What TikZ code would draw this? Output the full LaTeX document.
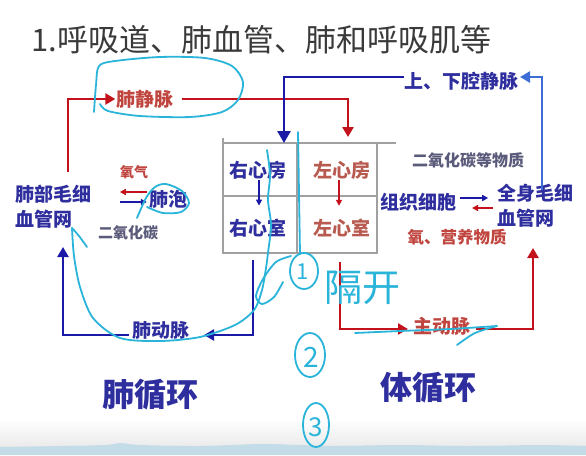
\documentclass[tikz,border=0pt]{standalone}
\usepackage{fontspec}
\setmainfont{Noto Sans CJK SC}
\usetikzlibrary{arrows.meta}
\definecolor{navy}{HTML}{2E2E9E}
\definecolor{navyline}{HTML}{1A1AA6}
\definecolor{redln}{HTML}{C4121C}
\definecolor{redtext}{HTML}{C0453F}
\definecolor{browntext}{HTML}{B85A50}
\definecolor{grayblue}{HTML}{5A5A7A}
\definecolor{penc}{HTML}{2AB4DA}
\definecolor{lightblue}{HTML}{3C6CD6}
\definecolor{boxgray}{HTML}{A0A0A0}
\definecolor{band}{HTML}{C4DCE8}
\definecolor{titlegray}{HTML}{3A3A3A}
\tikzset{
  lbl/.style={inner sep=1pt, font=\fontsize{19}{19}\selectfont\bfseries},
  bluelbl/.style={lbl, text=navy},
  redlbl/.style={lbl, text=browntext},
  smalllbl/.style={inner sep=1pt, font=\fontsize{15}{15}\selectfont\bfseries},
  bline/.style={draw=navyline, line width=2.6pt},
  rline/.style={draw=redln, line width=2.6pt},
  bigtip/.style={-{Triangle[length=10pt,width=11pt]}},
  smalltip/.style={-{Triangle[length=6pt,width=6pt]}},
  boxline/.style={draw=boxgray, line width=1.5pt},
  handw/.style={draw=penc, line width=1.8pt, line cap=round, line join=round},
  handtxt/.style={text=penc, inner sep=0pt}
}
\begin{document}
\begin{tikzpicture}[x=1pt,y=-1pt]
\useasboundingbox (0,0) rectangle (586,455);
% background bottom band
\shade[top color=white, bottom color=black!8] (0,418) rectangle (586,447);
\fill[band] (0,455) -- plot[smooth] coordinates {(0,447) (60,446) (105,445) (120,443) (140,445) (200,446) (260,444) (300,445) (330,446) (400,445) (470,446) (540,445) (586,446)} -- (586,455) -- cycle;

% title
\node[anchor=west, font=\fontsize{31}{31}\selectfont, text=titlegray, inner sep=0pt] (title) at (31,40) {1.呼吸道、肺血管、肺和呼吸肌等};

% heart box
\draw[boxline] (223,138) -- (223,253) -- (377,253) -- (377,143);
\draw[boxline] (223,143) -- (396,143);
\draw[boxline] (223,196) -- (377,196);
\draw[boxline] (297,143) -- (297,253);

% labels
\node[bluelbl] (ra) at (258,170) {右心房};
\node[bluelbl] (rv) at (258,228) {右心室};
\node[redlbl] (la) at (342,170) {左心房};
\node[redlbl] (lv) at (342,228) {左心室};
\node[lbl, text=redtext] (pv) at (145,99) {肺静脉};
\node[bluelbl] (vc) at (461,81) {上、下腔静脉};
\node[bluelbl, align=left, anchor=west, font=\fontsize{19}{25}\selectfont\bfseries] (lcap) at (14,207) {肺部毛细\\血管网};
\node[smalllbl, text=redtext, font=\fontsize{14}{14}\selectfont\bfseries] (o2) at (134,172) {氧气};
\node[bluelbl] (alv) at (168,199) {肺泡};
\node[smalllbl, text=grayblue] (co2) at (128,233) {二氧化碳};
\node[bluelbl] (pa) at (161,330) {肺动脉};
\node[redlbl, text=redtext] (ao) at (442,326) {主动脉};
\node[smalllbl, text=grayblue, font=\fontsize{16}{16}\selectfont\bfseries] (co2b) at (468,160) {二氧化碳等物质};
\node[bluelbl] (tis) at (418,202) {组织细胞};
\node[bluelbl, align=left, anchor=west, font=\fontsize{19}{25}\selectfont\bfseries] (bcap) at (496,206) {全身毛细\\血管网};
\node[smalllbl, text=redtext, font=\fontsize{16.5}{16.5}\selectfont\bfseries] (nut) at (457,237) {氧、营养物质};
\node[font=\fontsize{32}{32}\selectfont\bfseries, text=navy, inner sep=0pt] (pc) at (150,395) {肺循环};
\node[font=\fontsize{32}{32}\selectfont\bfseries, text=navy, inner sep=0pt] (sc) at (428,388) {体循环};

% connector coordinates
\coordinate (lcapOut) at (68,172);
\coordinate (pvOut) at (182,99);
\coordinate (laIn) at (348,137);
\coordinate (vcOut) at (404,77);
\coordinate (raIn) at (284,143);
\coordinate (bcapOut) at (542,190);
\coordinate (vcIn) at (520,77);
\coordinate (rvOut) at (253,260);
\coordinate (paIn) at (204,335);
\coordinate (paOut) at (129,335);
\coordinate (lcapIn) at (63,247);
\coordinate (lvOut) at (340,262);
\coordinate (aoIn) at (408,329);
\coordinate (aoOut) at (476,329);
\coordinate (bcapIn) at (533,248);

% pulmonary circulation
\draw[rline, bigtip] (lcapOut) |- (pv.west);
\draw[rline, bigtip] (pvOut) -| (laIn);
\draw[bline, bigtip] (rvOut) |- (paIn);
\draw[bline, bigtip] (paOut) -| (lcapIn);
% systemic circulation
\draw[bline, -{Triangle[length=12pt,width=13pt]}] (vcOut) -| (raIn);
\draw[draw=lightblue, line width=2.4pt, bigtip] (bcapOut) |- (vcIn);
\draw[rline, bigtip] (lvOut) |- (aoIn);
\draw[rline, bigtip] (aoOut) -| (bcapIn);
% heart inner arrows
\draw[draw=navyline, line width=1.6pt, smalltip] ([xshift=1pt]ra.south) -- ([xshift=1pt,yshift=12pt]rv.north);
\draw[draw=redln, line width=1.6pt, smalltip] ([xshift=-3pt]la.south) -- ([xshift=-3pt,yshift=12pt]lv.north);
% gas exchange arrows
\draw[draw=redln, line width=2.2pt, smalltip] ([xshift=-1pt,yshift=7pt]alv.west) -- ++(-27,0);
\draw[draw=navyline, line width=2.2pt, smalltip] ([xshift=-28pt,yshift=-3pt]alv.west) -- ++(27,0);
\draw[draw=navyline, line width=2.2pt, smalltip] ([xshift=3pt,yshift=4pt]tis.east) -- ++(28,0);
\draw[draw=redln, line width=2.2pt, smalltip] ([xshift=-3pt,yshift=-2pt]bcap.west) -- ++(-21,0);

% handwritten annotations
\draw[handw] plot[smooth] coordinates {(94,112) (96,85) (99,66) (115,61) (160,57) (205,58) (232,66) (243,82) (238,100) (222,112) (190,117) (140,116) (108,111) (100,104)};
\draw[handw] plot[smooth] coordinates {(137,218) (146,198) (155,187) (166,184) (182,191) (189,203) (181,212) (163,213) (147,207)};
\draw[handw] plot[smooth] coordinates {(267,150) (270,175) (268,200) (271,225) (268,253) (266,268) (262,290) (254,310) (235,325) (200,337) (160,341) (120,338) (93,318) (80,287) (74,256) (72,228)};
\draw[handw] plot[smooth] coordinates {(72,228) (79,236) (87,247)};
\draw[handw] plot[smooth] coordinates {(291,256) (276,262) (263,279) (256,296) (262,304) (274,297) (283,282)};
\draw[handw] (298,132) -- (300,254);
\draw[handw] (304,271) ellipse[x radius=14, y radius=18];
\node[handtxt, font=\fontsize{22}{22}\selectfont] (one) at (303,272) {1};
\node[handtxt, font=\fontsize{38}{38}\selectfont] (ge) at (362,288) {隔开};
\draw[handw] (310,355) ellipse[x radius=15, y radius=22];
\node[handtxt, font=\fontsize{28}{28}\selectfont] (two) at (311,357) {2};
\draw[handw] (316,425) ellipse[x radius=13, y radius=22];
\node[handtxt, font=\fontsize{26}{26}\selectfont] (three) at (316,427) {3};
\draw[handw] plot[smooth] coordinates {(355,333) (400,331) (450,329) (497,326)};
\draw[handw] plot[smooth] coordinates {(497,326) (475,333) (457,345)};
\end{tikzpicture}
\end{document}
